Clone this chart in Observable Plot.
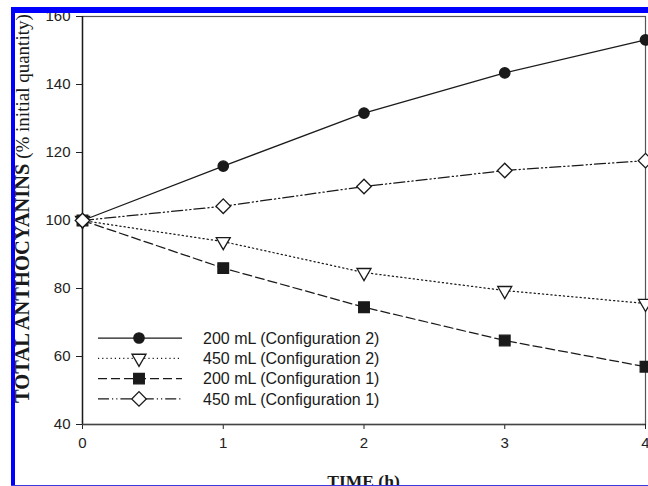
<!DOCTYPE html>
<html><head><meta charset="utf-8">
<script src="https://cdn.jsdelivr.net/npm/d3@7"></script>
<script src="https://cdn.jsdelivr.net/npm/@observablehq/plot@0.6"></script>
<style>
body{margin:0;background:#fff}
#wrap{position:relative;width:648px;height:486px;overflow:hidden;background:#fff}
.bar{position:absolute;background:#0000ff}
</style>
</head><body><div id="wrap"></div>
<script>
// ---- data ----
const times = [0, 1, 2, 3, 4];
const seriesNames = ["200 mL (Configuration 2)", "450 mL (Configuration 2)", "200 mL (Configuration 1)", "450 mL (Configuration 1)"];
const c2_200 = [100, 116, 131.6, 143.4, 153.1];
const c2_450 = [100, 93.8, 84.7, 79.4, 75.6];
const c1_200 = [100, 86, 74.5, 64.7, 57];
const c1_450 = [100, 104.2, 110, 114.7, 117.6];
const yTicks = [40, 60, 80, 100, 120, 140, 160];
const xTicks = [0, 1, 2, 3, 4];
const xLabel = "TIME (h)";
const yLabelBold = "TOTAL ANTHOCYANINS";
const yLabelRest = " (% initial quantity)";

const seriesValues = [c2_200, c2_450, c1_200, c1_450];
const styles = [
  {symbol: "circle", fill: "#1a1a1a", dash: null, r: 5.2, rotate: 0},
  {symbol: "triangle", fill: "#fff", dash: "1.2,3", r: 5.2, rotate: 180},
  {symbol: "square", fill: "#1a1a1a", dash: "9,4", r: 6, rotate: 0},
  {symbol: "square", fill: "#fff", dash: "11,3,1.2,3,1.2,3", r: 5.8, rotate: 45}
];
const rows = seriesNames.flatMap((name, i) => times.map((t, j) => ({series: name, time: t, value: seriesValues[i][j]})));

const ink = "#1a1a1a";
const marks = [
  Plot.frame({stroke: "#555", strokeWidth: 1.2}),
  Plot.axisY({ticks: yTicks, tickSize: 6, tickPadding: 6, label: null, fontSize: 15, tickFormat: d3.format("d")}),
  Plot.axisX({ticks: xTicks, tickSize: 5, tickPadding: 8, label: null, fontSize: 15, tickFormat: d3.format("d")}),
  Plot.ruleX([0], {stroke: ink, strokeWidth: 1.4}),
  Plot.ruleY([40], {stroke: "#444", strokeWidth: 1.4})
];
seriesNames.forEach((name, i) => {
  const s = styles[i];
  marks.push(Plot.line(rows.filter(d => d.series === name), {x: "time", y: "value", stroke: ink, strokeWidth: 1.25, strokeDasharray: s.dash}));
});
seriesNames.forEach((name, i) => {
  const s = styles[i];
  marks.push(Plot.dot(rows.filter(d => d.series === name), {x: "time", y: "value", symbol: s.symbol, r: s.r, fill: s.fill, stroke: ink, strokeWidth: 1.3, rotate: s.rotate}));
});

const plot = Plot.plot({
  width: 648, height: 486,
  marginLeft: 82, marginRight: 3, marginTop: 16, marginBottom: 62,
  x: {domain: [0, 4]},
  y: {domain: [40, 160]},
  style: {fontFamily: "'Liberation Sans', Arial, sans-serif", fontSize: "15px", color: "#222", background: "transparent", overflow: "hidden"},
  marks
});
const wrap = document.getElementById("wrap");
wrap.appendChild(plot);

const svg = d3.select(plot);
// y label
const yl = svg.append("text")
  .attr("transform", "translate(29,403) rotate(-90)")
  .attr("text-anchor", "start")
  .attr("font-family", "'Liberation Serif', 'Times New Roman', serif")
  .attr("fill", "#1a1a1a");
yl.append("tspan").attr("font-weight", "bold").attr("font-size", 20.5).text(yLabelBold);
yl.append("tspan").attr("font-size", 19).text(yLabelRest);
// x label
svg.append("text")
  .attr("x", 363.5).attr("y", 487)
  .attr("text-anchor", "middle")
  .attr("font-family", "'Liberation Serif', 'Times New Roman', serif")
  .attr("font-weight", "bold").attr("font-size", 17.5)
  .attr("fill", "#1a1a1a")
  .text(xLabel);

// legend
const lg = svg.append("g").attr("text-anchor", "start");
seriesNames.forEach((name, i) => {
  const s = styles[i];
  const y = 338 + i * 20.3;
  lg.append("line").attr("x1", 98).attr("x2", 182).attr("y1", y).attr("y2", y)
    .attr("stroke", ink).attr("stroke-width", 1.25).attr("stroke-dasharray", s.dash);
  const sym = s.symbol === "circle" ? d3.symbolCircle : s.symbol === "triangle" ? d3.symbolTriangle : d3.symbolSquare;
  lg.append("path").attr("d", d3.symbol(sym, Math.PI * s.r * s.r)())
    .attr("transform", `translate(139,${y}) rotate(${s.rotate})`)
    .attr("fill", s.fill).attr("stroke", ink).attr("stroke-width", 1.3);
  lg.append("text").attr("x", 203).attr("y", y).attr("dy", "0.36em")
    .attr("text-anchor", "start")
    .attr("font-family", "'Liberation Sans', Arial, sans-serif").attr("font-size", 16)
    .attr("fill", "#1a1a1a").text(name);
});

// blue page border
[[11, 7, 4, 479], [11, 7, 637, 6]].forEach(([l, t, w, h]) => {
  const d = document.createElement("div");
  d.className = "bar";
  Object.assign(d.style, {left: l + "px", top: t + "px", width: w + "px", height: h + "px"});
  wrap.appendChild(d);
});
const bl = document.createElement("div");
bl.className = "bar";
Object.assign(bl.style, {left: "11px", top: "485px", width: "637px", height: "1px", background: "#3a3ae0"});
wrap.appendChild(bl);
</script>
</body></html>
